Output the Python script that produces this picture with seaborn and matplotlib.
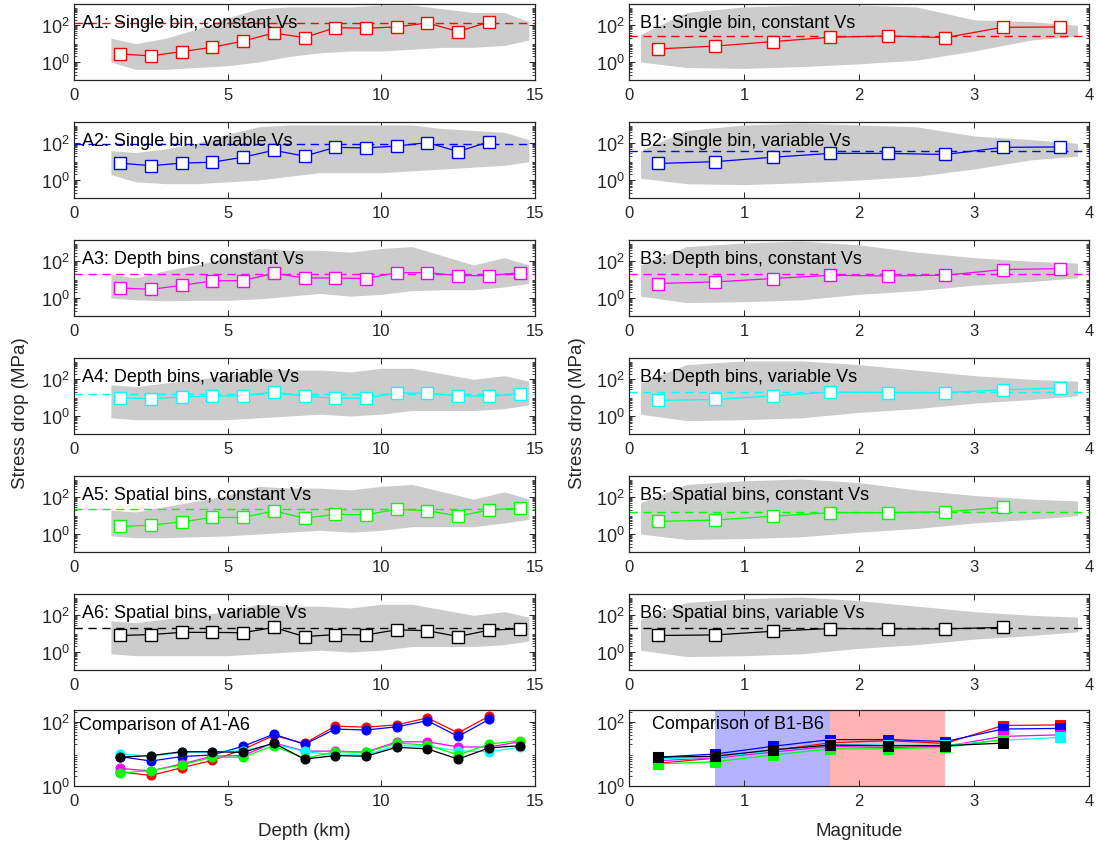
import numpy as np
import pandas as pd
import matplotlib
matplotlib.use("Agg")
import matplotlib.pyplot as plt
import seaborn as sns
from matplotlib.ticker import LogLocator, NullFormatter, FixedLocator

# ---------------- data (stress drop values in log10 MPa) ----------------
depth_bins = [1.5, 2.5, 3.5, 4.5, 5.5, 6.5, 7.5, 8.5, 9.5, 10.5, 11.5, 12.5, 13.5, 14.5]
mag_bins = [0.25, 0.75, 1.25, 1.75, 2.25, 2.75, 3.25, 3.75]

a1_med = [0.44, 0.33, 0.57, 0.80, 1.14, 1.58, 1.33, 1.87, 1.84, 1.91, 2.13, 1.66, 2.18]
a2_med = [0.92, 0.78, 0.92, 0.97, 1.24, 1.62, 1.30, 1.78, 1.75, 1.85, 2.04, 1.55, 2.08]
a3_med = [0.55, 0.47, 0.69, 0.93, 0.95, 1.35, 1.09, 1.09, 1.06, 1.38, 1.38, 1.22, 1.22, 1.38]
a4_med = [1.00, 0.93, 1.05, 1.07, 1.10, 1.31, 1.08, 0.97, 0.97, 1.26, 1.24, 1.10, 1.07, 1.21]
a5_med = [0.41, 0.48, 0.66, 0.90, 0.90, 1.26, 0.86, 1.07, 1.05, 1.34, 1.28, 0.97, 1.31, 1.42]
a6_med = [0.90, 0.95, 1.07, 1.07, 1.05, 1.34, 0.84, 0.95, 0.93, 1.21, 1.16, 0.84, 1.19, 1.26]
a_all = [2.15, 1.95, 1.31, 1.20, 1.35, 1.29]

b1_med = [0.71, 0.87, 1.11, 1.35, 1.42, 1.33, 1.89, 1.91]
b2_med = [0.90, 1.00, 1.24, 1.45, 1.45, 1.39, 1.78, 1.80]
b3_med = [0.79, 0.88, 1.06, 1.24, 1.20, 1.24, 1.55, 1.60]
b4_med = [0.85, 0.90, 1.10, 1.30, 1.28, 1.27, 1.43, 1.52]
b5_med = [0.69, 0.76, 0.97, 1.16, 1.16, 1.21, 1.45]
b6_med = [0.90, 0.93, 1.13, 1.28, 1.26, 1.26, 1.34]
b_all = [1.42, 1.56, 1.29, 1.30, 1.20, 1.30]

# grey point cloud envelopes (lower / upper edge, log10 MPa)
a_cloud_x = [1.2, 2, 3, 4, 5, 6, 7, 8, 9, 10, 11, 12, 13, 14, 14.8]
a1_lo = [0.0, -0.4, -0.4, -0.3, -0.2, 0.0, 0.3, 0.5, 0.6, 0.6, 0.7, 0.8, 0.8, 0.9, 1.2]
a1_hi = [1.3, 1.0, 1.3, 1.8, 2.4, 2.9, 3.0, 3.0, 3.0, 3.1, 3.1, 2.9, 2.7, 2.7, 2.2]
a2_lo = [0.3, -0.1, -0.2, -0.2, -0.1, 0.0, 0.2, 0.4, 0.4, 0.4, 0.5, 0.6, 0.7, 0.8, 1.0]
a2_hi = [1.6, 1.5, 1.7, 2.0, 2.5, 2.9, 3.0, 3.0, 3.0, 3.0, 3.0, 2.8, 2.7, 2.6, 2.2]
a3_lo = [0.0, -0.1, -0.15, -0.12, -0.12, -0.05, 0.1, 0.25, 0.1, 0.2, 0.4, 0.45, 0.45, 0.6, 0.8]
a3_hi = [1.3, 1.1, 1.5, 1.8, 2.2, 2.7, 2.6, 2.6, 2.5, 2.7, 2.8, 2.3, 1.8, 2.2, 1.8]
a4_lo = [-0.1, -0.2, -0.2, -0.2, -0.2, -0.1, 0.0, 0.1, 0.0, 0.1, 0.3, 0.3, 0.3, 0.4, 0.6]
a4_hi = [1.7, 1.6, 1.8, 2.0, 2.2, 2.6, 2.5, 2.5, 2.4, 2.6, 2.6, 2.3, 2.0, 2.2, 1.9]
a5_lo = [-0.1, -0.2, -0.2, -0.15, -0.1, 0.0, 0.1, 0.2, 0.1, 0.2, 0.4, 0.4, 0.4, 0.6, 0.8]
a5_hi = [1.3, 1.2, 1.5, 1.8, 2.1, 2.6, 2.5, 2.5, 2.4, 2.6, 2.7, 2.3, 1.9, 2.3, 1.9]
a6_lo = [-0.1, -0.2, -0.2, -0.2, -0.2, -0.1, 0.0, 0.1, 0.0, 0.1, 0.3, 0.3, 0.3, 0.4, 0.6]
a6_hi = [1.7, 1.6, 1.8, 2.0, 2.2, 2.6, 2.5, 2.5, 2.4, 2.6, 2.6, 2.3, 2.0, 2.2, 1.9]

b_cloud_x = [0.1, 0.5, 1.0, 1.5, 2.0, 2.5, 3.0, 3.5, 3.9]
b1_lo = [0.0, -0.3, -0.35, -0.25, -0.1, 0.1, 0.6, 1.2, 1.4]
b1_hi = [1.5, 2.7, 3.0, 3.1, 3.1, 3.0, 2.3, 2.2, 2.0]
b2_lo = [0.1, -0.2, -0.25, -0.15, 0.0, 0.2, 0.6, 1.1, 1.3]
b2_hi = [1.6, 2.7, 3.0, 3.1, 3.0, 2.9, 2.4, 2.2, 2.0]
b3_lo = [0.1, -0.25, -0.2, -0.1, 0.2, 0.4, 0.7, 0.9, 1.1]
b3_hi = [1.8, 2.8, 3.0, 3.1, 2.9, 2.5, 2.2, 2.0, 1.9]
b4_lo = [0.1, -0.25, -0.2, -0.1, 0.2, 0.4, 0.7, 0.9, 1.1]
b4_hi = [1.8, 2.8, 3.0, 3.0, 2.8, 2.5, 2.2, 2.0, 1.9]
b5_lo = [0.0, -0.3, -0.25, -0.15, 0.1, 0.3, 0.6, 0.8, 1.0]
b5_hi = [1.7, 2.7, 2.9, 3.0, 2.8, 2.4, 2.1, 1.9, 1.8]
b6_lo = [0.1, -0.25, -0.2, -0.1, 0.2, 0.4, 0.7, 0.9, 1.1]
b6_hi = [1.8, 2.7, 2.9, 3.0, 2.8, 2.5, 2.2, 2.0, 1.9]

a_titles = ["A1: Single bin, constant Vs", "A2: Single bin, variable Vs",
            "A3: Depth bins, constant Vs", "A4: Depth bins, variable Vs",
            "A5: Spatial bins, constant Vs", "A6: Spatial bins, variable Vs"]
b_titles = ["B1: Single bin, constant Vs", "B2: Single bin, variable Vs",
            "B3: Depth bins, constant Vs", "B4: Depth bins, variable Vs",
            "B5: Spatial bins, constant Vs", "B6: Spatial bins, variable Vs"]
colors = ["#ff0000", "#0000ff", "#ff00ff", "#00ffff", "#00ff00", "#000000"]

a_meds = [a1_med, a2_med, a3_med, a4_med, a5_med, a6_med]
b_meds = [b1_med, b2_med, b3_med, b4_med, b5_med, b6_med]
a_clouds = [(a1_lo, a1_hi), (a2_lo, a2_hi), (a3_lo, a3_hi), (a4_lo, a4_hi), (a5_lo, a5_hi), (a6_lo, a6_hi)]
b_clouds = [(b1_lo, b1_hi), (b2_lo, b2_hi), (b3_lo, b3_hi), (b4_lo, b4_hi), (b5_lo, b5_hi), (b6_lo, b6_hi)]

# ---------------- style ----------------
sns.set_theme(style="ticks")
plt.rcParams["font.family"] = ["Liberation Sans", "DejaVu Sans"]
plt.rcParams["mathtext.fontset"] = "custom"
plt.rcParams["mathtext.rm"] = "Liberation Sans"
plt.rcParams["mathtext.it"] = "Liberation Sans"
plt.rcParams["mathtext.bf"] = "Liberation Sans"

W, H = 1096, 845
fig = plt.figure(figsize=(W / 100, H / 100), dpi=100)
fig.patch.set_facecolor("white")

def add_ax(left, top, width, height):
    return fig.add_axes([left / W, 1 - (top + height) / H, width / W, height / H])

row_tops = [5, 123, 241, 359, 477, 595, 711]
AX_H = 76
A_LEFT, A_W = 74, 461
B_LEFT, B_W = 629, 460
TXT = "#262626"

def style(ax, xlim, xticks, ylim):
    ax.set_yscale("log")
    ax.set_xlim(xlim)
    ax.set_ylim(ylim)
    ax.set_xticks(xticks)
    ax.set_xticklabels([str(t) for t in xticks])
    ax.yaxis.set_major_locator(FixedLocator([1, 100]))
    ax.yaxis.set_minor_locator(LogLocator(base=10, subs=np.arange(2, 10), numticks=30))
    ax.yaxis.set_minor_formatter(NullFormatter())
    ax.tick_params(which="both", direction="in", top=True, right=True, color=TXT)
    ax.tick_params(which="major", length=4, width=0.7)
    ax.tick_params(which="minor", length=2, width=0.6)
    ax.tick_params(axis="x", labelsize=12, pad=5, labelcolor=TXT)
    ax.tick_params(axis="y", labelsize=13, pad=3, labelcolor=TXT)
    ax.set_xlabel("")
    ax.set_ylabel("")
    for s in ax.spines.values():
        s.set_visible(True)
        s.set_linewidth(0.9)
        s.set_color(TXT)
    ax.set_facecolor("white")

SC_YLIM = (10 ** -0.98, 10 ** 3.16)
CMP_YLIM = (1, 10 ** 2.375)

def panel(ax, bins, med, cloud_x, cloud, allv, color, title, title_x):
    lo, hi = cloud
    ax.fill_between(cloud_x, 10 ** np.array(lo), 10 ** np.array(hi),
                    color="#cccccc", lw=0, zorder=1)
    ax.axhline(10 ** allv, color=color, ls=(0, (6, 4)), lw=1.0, zorder=2)
    df = pd.DataFrame({"x": bins[:len(med)], "y": 10 ** np.array(med)})
    sns.lineplot(data=df, x="x", y="y", ax=ax, color=color, lw=0.9,
                 marker="s", markersize=8, markerfacecolor="white",
                 markeredgecolor=color, markeredgewidth=1.0,
                 estimator=None, sort=False, zorder=3)
    ax.text(title_x, 0.76, title, transform=ax.transAxes, fontsize=13,
            ha="left", va="center", color="black", zorder=4)

for i in range(6):
    ax = add_ax(A_LEFT, row_tops[i], A_W, AX_H)
    panel(ax, depth_bins, a_meds[i], a_cloud_x, a_clouds[i], a_all[i], colors[i], a_titles[i], 0.017)
    style(ax, (0, 15), [0, 5, 10, 15], SC_YLIM)

    ax = add_ax(B_LEFT, row_tops[i], B_W, AX_H)
    panel(ax, mag_bins, b_meds[i], b_cloud_x, b_clouds[i], b_all[i], colors[i], b_titles[i], 0.024)
    style(ax, (0, 4), [0, 1, 2, 3, 4], SC_YLIM)

# comparison panels
axa = add_ax(A_LEFT, row_tops[6], A_W, AX_H)
for med, c in zip(a_meds, colors):
    df = pd.DataFrame({"x": depth_bins[:len(med)], "y": 10 ** np.array(med)})
    sns.lineplot(data=df, x="x", y="y", ax=axa, color=c, lw=0.9, marker="o",
                 markersize=6.5, markerfacecolor=c, markeredgecolor=c,
                 estimator=None, sort=False, zorder=3)
axa.text(0.011, 0.81, "Comparison of A1-A6", transform=axa.transAxes, fontsize=13,
         ha="left", va="center", color="black")
style(axa, (0, 15), [0, 5, 10, 15], CMP_YLIM)

axb = add_ax(B_LEFT, row_tops[6], B_W, AX_H)
axb.axvspan(0.75, 1.75, color="#b3b3ff", lw=0, zorder=0)
axb.axvspan(1.75, 2.75, color="#ffb3b3", lw=0, zorder=0)
for med, c in zip(b_meds, colors):
    df = pd.DataFrame({"x": mag_bins[:len(med)], "y": 10 ** np.array(med)})
    sns.lineplot(data=df, x="x", y="y", ax=axb, color=c, lw=0.9, marker="s",
                 markersize=6.5, markerfacecolor=c, markeredgecolor=c,
                 estimator=None, sort=False, zorder=3)
axb.text(0.05, 0.82, "Comparison of B1-B6", transform=axb.transAxes, fontsize=13,
         ha="left", va="center", color="black")
style(axb, (0, 4), [0, 1, 2, 3, 4], CMP_YLIM)

# axis labels
fig.text(21 / W, 1 - 413 / H, "Stress drop (MPa)", rotation=90, fontsize=13.5,
         ha="center", va="center", color=TXT)
fig.text(577 / W, 1 - 413 / H, "Stress drop (MPa)", rotation=90, fontsize=13.5,
         ha="center", va="center", color=TXT)
fig.text((A_LEFT + A_W / 2) / W, 1 - 832 / H, "Depth (km)", fontsize=13.5,
         ha="center", va="center", color=TXT)
fig.text((B_LEFT + B_W / 2) / W, 1 - 832 / H, "Magnitude", fontsize=13.5,
         ha="center", va="center", color=TXT)

fig.savefig("out.png", dpi=100, facecolor="white")
